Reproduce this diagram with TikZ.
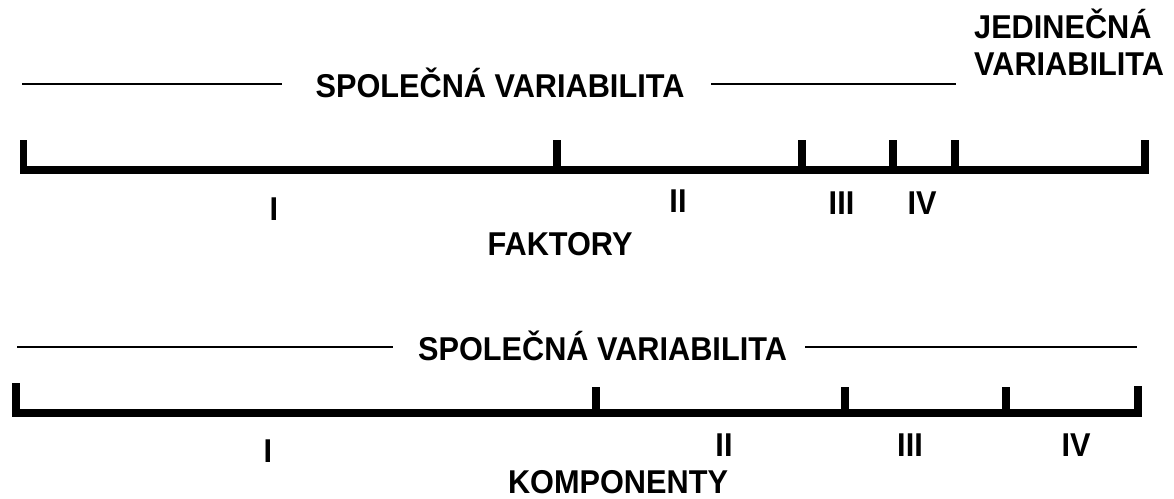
\documentclass[tikz,border=0pt]{standalone}
\usepackage{fontspec}
\setmainfont{Liberation Sans}
\begin{document}
\begin{tikzpicture}[x=1pt,y=-1pt,
  lbl/.style={anchor=base,inner sep=0pt,xscale=0.93,
    font=\bfseries\fontsize{33}{33}\selectfont},
  thinrule/.style={line width=2.2pt},
  scalebar/.style={line width=7.5pt,line join=miter,line cap=butt}]
\useasboundingbox (0,0) rectangle (1174,498);

% ---- factor analysis: common part and unique part ----
\node[lbl] (spolA) at (500,97) {SPOLEČNÁ VARIABILITA};
\node[lbl,anchor=base west] (jedin) at (974,38) {JEDINEČNÁ};
\node[lbl,anchor=base west] (varA) at (974,75) {VARIABILITA};
\coordinate (lA1) at (22,84);  \coordinate (lA2) at (282,84);
\coordinate (lA3) at (711,84); \coordinate (lA4) at (956,84);
\draw[thinrule] (lA1) -- (lA2);
\draw[thinrule] (lA3) -- (lA4);

% scale bar with factor boundaries
\coordinate (aL) at (23.5,140);  \coordinate (aLb) at (23.5,170);
\coordinate (aR) at (1145,140);  \coordinate (aRb) at (1145,170);
\draw[scalebar] (aL) -- (aLb) -- (aRb) -- (aR);
\foreach \t/\x in {a1/557,a2/802,a3/893,a4/955}{
  \coordinate (\t top) at (\x,140);
  \coordinate (\t bot) at (\x,170);
  \draw[scalebar] (\t top) -- (\t bot);
}
\node[lbl] (fI)   at (274,220) {I};
\node[lbl] (fII)  at (678,212) {II};
\node[lbl] (fIII) at (841.5,214) {III};
\node[lbl] (fIV)  at (922,214) {IV};
\node[lbl] (fakt) at (560,255) {FAKTORY};

% ---- principal components: common part only ----
\node[lbl] (spolB) at (602.5,360) {SPOLEČNÁ VARIABILITA};
\coordinate (lB1) at (17,347);  \coordinate (lB2) at (393,347);
\coordinate (lB3) at (805,347); \coordinate (lB4) at (1137,347);
\draw[thinrule] (lB1) -- (lB2);
\draw[thinrule] (lB3) -- (lB4);

\coordinate (bL) at (16,383);   \coordinate (bLb) at (16,413);
\coordinate (bR) at (1138,386); \coordinate (bRb) at (1138,413);
\draw[scalebar] (bL) -- (bLb) -- (bRb) -- (bR);
\foreach \t/\x in {b1/596,b2/845,b3/1006}{
  \coordinate (\t top) at (\x,387);
  \coordinate (\t bot) at (\x,413);
  \draw[scalebar] (\t top) -- (\t bot);
}
\node[lbl] (kI)   at (268,462) {I};
\node[lbl] (kII)  at (724,456) {II};
\node[lbl] (kIII) at (910,456) {III};
\node[lbl] (kIV)  at (1076,456) {IV};
\node[lbl] (komp) at (618,493) {KOMPONENTY};
\end{tikzpicture}
\end{document}
